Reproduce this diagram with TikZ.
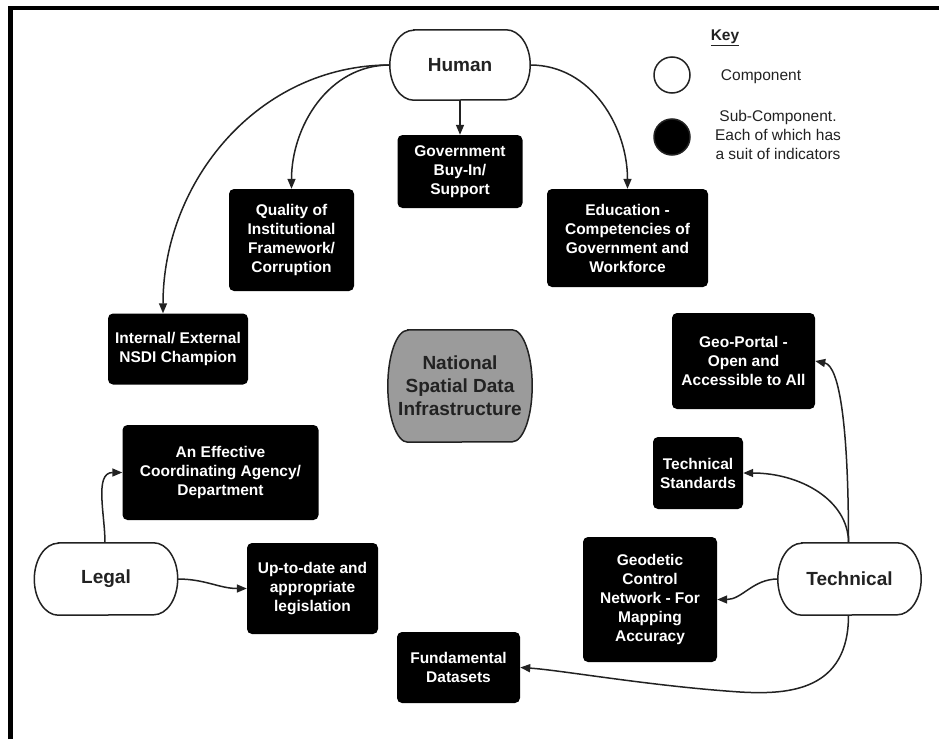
\documentclass[tikz,border=0pt]{standalone}
\usepackage{fontspec}
\setmainfont{Liberation Sans}
\usetikzlibrary{arrows.meta,backgrounds}
\definecolor{ink}{RGB}{34,34,34}
\definecolor{nsdigray}{RGB}{155,155,155}
\newcommand\capsh[4]{%
  \draw[capline,fill=#4] ([xshift=#2]#1.north west) -- ([xshift=-#2]#1.north east)
    arc[start angle=90,end angle=-90,x radius=#2,y radius=#3]
    -- ([xshift=#2]#1.south west)
    arc[start angle=270,end angle=90,x radius=#2,y radius=#3] -- cycle;}
\begin{document}
\begin{tikzpicture}[x=1pt,y=-1pt,
  conn/.style={draw=ink, line width=1.5pt, -{Triangle[length=10pt,width=8pt]}},
  subbox/.style={fill=black, rounded corners=5pt, text=white, font=\bfseries\fontsize{15.5}{19}\selectfont, align=center, inner sep=0pt},
  comp/.style={text=ink, font=\bfseries\fontsize{19}{23}\selectfont, align=center, inner sep=0pt},
  capline/.style={draw=ink, line width=1.5pt},
  keytext/.style={text=ink, font=\fontsize{15.5}{19}\selectfont, align=center, inner sep=0pt},
  keydot/.style={circle, draw=ink, line width=1.5pt, minimum size=36pt, inner sep=0pt},
]
\useasboundingbox (0,0) rectangle (939,739);
\begin{scope}[on background layer]
  \fill[white] (0,0) rectangle (939,739);
\end{scope}
\draw[line width=4.5pt, black] (10.5,739) -- (10.5,8) -- (939,8);

% components
\node[comp, minimum width=140pt, minimum height=70pt] (human) at (460,65) {Human};
\node[comp, minimum width=143pt, minimum height=72pt] (legal) at (106,579) {Legal};
\node[comp, minimum width=143pt, minimum height=72pt] (tech) at (849.5,579) {Technical};
\node[comp, minimum width=144pt, minimum height=112pt] (nsdi) at (460,386) {National\\Spatial Data\\Infrastructure};
\begin{scope}[on background layer]
  \capsh{human}{24pt}{35pt}{white}
  \capsh{legal}{24pt}{36pt}{white}
  \capsh{tech}{24pt}{36pt}{white}
  \capsh{nsdi}{20pt}{56pt}{nsdigray}
\end{scope}

% sub-components
\node[subbox, minimum width=125pt, minimum height=73pt] (gov) at (460,171.5) {Government\\Buy-In/\\Support};
\node[subbox, minimum width=161pt, minimum height=98pt] (edu) at (627.5,238) {Education -\\Competencies of\\Government and\\Workforce};
\node[subbox, minimum width=125pt, minimum height=102pt] (qual) at (291.5,240) {Quality of\\Institutional\\Framework/\\Corruption};
\node[subbox, minimum width=140pt, minimum height=71pt] (intl) at (178,349) {Internal/ External\\NSDI Champion};
\node[subbox, minimum width=196pt, minimum height=95pt] (eff) at (220.5,472.5) {An Effective\\Coordinating Agency/\\Department};
\node[subbox, minimum width=131pt, minimum height=91pt] (upd) at (312.5,588.5) {Up-to-date and\\appropriate\\legislation};
\node[subbox, minimum width=123pt, minimum height=71pt] (fund) at (458.5,667.5) {Fundamental\\Datasets};
\node[subbox, minimum width=134pt, minimum height=125pt] (geod) at (650,599.5) {Geodetic\\Control\\Network - For\\Mapping\\Accuracy};
\node[subbox, minimum width=90pt, minimum height=72pt] (tstd) at (698,473) {Technical\\Standards};
\node[subbox, minimum width=143pt, minimum height=96pt] (geop) at (743.5,361) {Geo-Portal -\\Open and\\Accessible to All};

% key
\node[keytext, font=\bfseries\fontsize{15.5}{19}\selectfont] (keyt) at (725,38) {\underline{Key}};
\node[keydot, fill=white] (kwhite) at (672,75) {};
\node[keydot, fill=black] (kblack) at (672,137) {};
\node[keytext] (kcomp) at (761,77) {Component};
\node[keytext] (ksub) at (778,135) {Sub-Component.\\Each of which has\\a suit of indicators};

% connectors
\draw[conn] (human.south) -- (gov.north);
\draw[conn] (human.east) to[out=0,in=90] (edu.north);
\draw[conn] (human.west) to[out=180,in=90] (qual.north);
\draw[conn] (human.west) to[out=180,in=90] ([xshift=-15pt]intl.north);
\draw[conn] ([xshift=-1pt]legal.north) to[out=90,in=180] (eff.west);
\draw[conn] (legal.east) to[out=0,in=180] (upd.west);
\draw[conn] ([xshift=-1pt]tech.north) .. controls (848.5,430) and (840,366) .. (geop.east);
\draw[conn] ([xshift=-1pt]tech.north) .. controls (848.5,500) and (800,473) .. (tstd.east);
\draw[conn] (tech.west) to[out=180,in=0] (geod.east);
\draw[conn] ([xshift=-1pt]tech.south) .. controls (848.5,690) and (790,695) .. (740,692) .. controls (650,686) and (560,670) .. (fund.east);
\end{tikzpicture}
\end{document}
